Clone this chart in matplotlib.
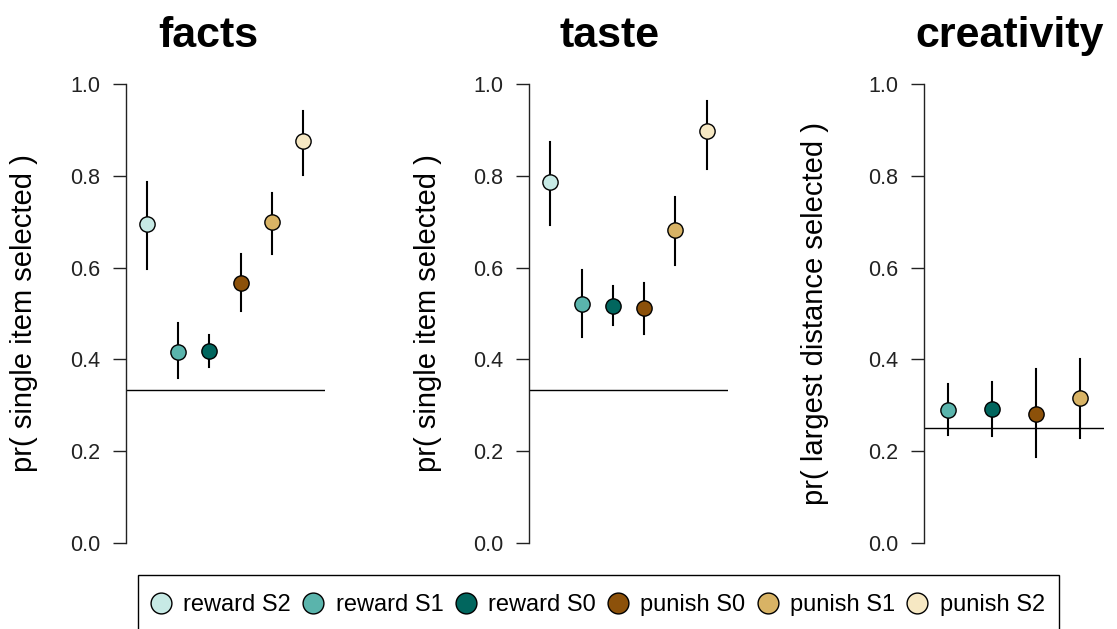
import numpy as np
import matplotlib.pyplot as plt
from matplotlib.patches import Rectangle

plt.rcParams['font.family'] = ['Liberation Sans', 'DejaVu Sans']

# conditions and their colours (BrBG)
conditions = ["reward S2", "reward S1", "reward S0", "punish S0", "punish S1", "punish S2"]
colors = ["#C7EAE5", "#5AB4AC", "#01665E", "#8C510A", "#D8B365", "#F6E8C3"]

# proportion estimates with interval bounds
facts_mean = [0.695, 0.416, 0.418, 0.567, 0.699, 0.877]
facts_lo = [0.597, 0.359, 0.383, 0.506, 0.629, 0.803]
facts_hi = [0.787, 0.479, 0.454, 0.629, 0.764, 0.942]

taste_mean = [0.788, 0.521, 0.517, 0.511, 0.682, 0.898]
taste_lo = [0.694, 0.449, 0.476, 0.455, 0.606, 0.815]
taste_hi = [0.874, 0.595, 0.559, 0.567, 0.755, 0.964]

# creativity only has S1/S0 conditions
creat_idx = [1, 2, 3, 4]
creat_mean = [0.290, 0.292, 0.281, 0.316]
creat_lo = [0.234, 0.233, 0.187, 0.229]
creat_hi = [0.346, 0.351, 0.378, 0.401]

titles = ["facts", "taste", "creativity"]
ylabels = ["pr( single item selected )", "pr( single item selected )",
           "pr( largest distance selected )"]
chance = [1 / 3, 1 / 3, 1 / 4]
yticks = [0.0, 0.2, 0.4, 0.6, 0.8, 1.0]

fig = plt.figure(figsize=(11.17, 6.29), dpi=100)

W, H = 1117, 629
panels = [
    dict(left=126, right=325, xlim=(0.34, 6.70), lab=38, title_x=208),
    dict(left=528.7, right=727.7, xlim=(0.31, 6.67), lab=441.7, title_x=610),
    dict(left=924, right=1104.3, xlim=(0.445, 4.56), lab=829.3, title_x=1010),
]
bottom_px, top_px = 561.0, 66.0

data = [
    (list(range(6)), facts_mean, facts_lo, facts_hi),
    (list(range(6)), taste_mean, taste_lo, taste_hi),
    (creat_idx, creat_mean, creat_lo, creat_hi),
]

handles = {}
for k, p in enumerate(panels):
    ax = fig.add_axes([p['left'] / W, (H - bottom_px) / H,
                       (p['right'] - p['left']) / W, (bottom_px - top_px) / H])
    idx, m, lo, hi = data[k]
    xs = np.arange(1, len(idx) + 1)
    ax.axhline(chance[k], color='black', lw=1.0, zorder=1)
    for j, ci in enumerate(idx):
        ax.plot([xs[j], xs[j]], [lo[j], hi[j]], color='black', lw=1.5, zorder=2)
        h, = ax.plot(xs[j], m[j], 'o', ms=11, mfc=colors[ci], mec='black',
                     mew=1.0, zorder=3, label=conditions[ci])
        handles.setdefault(conditions[ci], h)
    ax.set_xlim(*p['xlim'])
    ax.set_ylim(-0.04, 1.04)
    for s in ['top', 'right', 'bottom']:
        ax.spines[s].set_visible(False)
    ax.spines['left'].set_bounds(0, 1)
    ax.spines['left'].set_linewidth(1.0)
    ax.spines['left'].set_color('#222222')
    ax.set_xticks([])
    ax.set_yticks(yticks)
    ax.set_yticklabels([f"{t:.1f}" for t in yticks])
    ax.tick_params(axis='y', length=9.5, width=1.0, pad=9, labelsize=15.5,
                   color='#222222', labelcolor='#222222')
    ax.set_ylabel(ylabels[k], fontsize=21)
    ax.yaxis.set_label_coords((p['lab'] - p['left']) / (p['right'] - p['left']), 0.5)
    fig.text(p['title_x'] / W, (H - 47) / H, titles[k], fontsize=31,
             fontweight='bold', ha='center', va='baseline')

# legend box runs off the bottom edge
fig.patches.append(Rectangle((138.3 / W, -0.1), (1059 - 138.3) / W, 0.1 + (H - 575) / H,
                             transform=fig.transFigure, fill=False, ec='black',
                             lw=1.0, clip_on=False))
fig.legend([handles[c] for c in conditions], conditions, loc='center',
           bbox_to_anchor=(597 / W, (H - 605) / H), ncol=6, frameon=False,
           fontsize=17, markerscale=15 / 11, handlelength=1.0,
           handletextpad=0.45, columnspacing=0.44, borderpad=0, borderaxespad=0)

fig.savefig("out.png", dpi=100)
